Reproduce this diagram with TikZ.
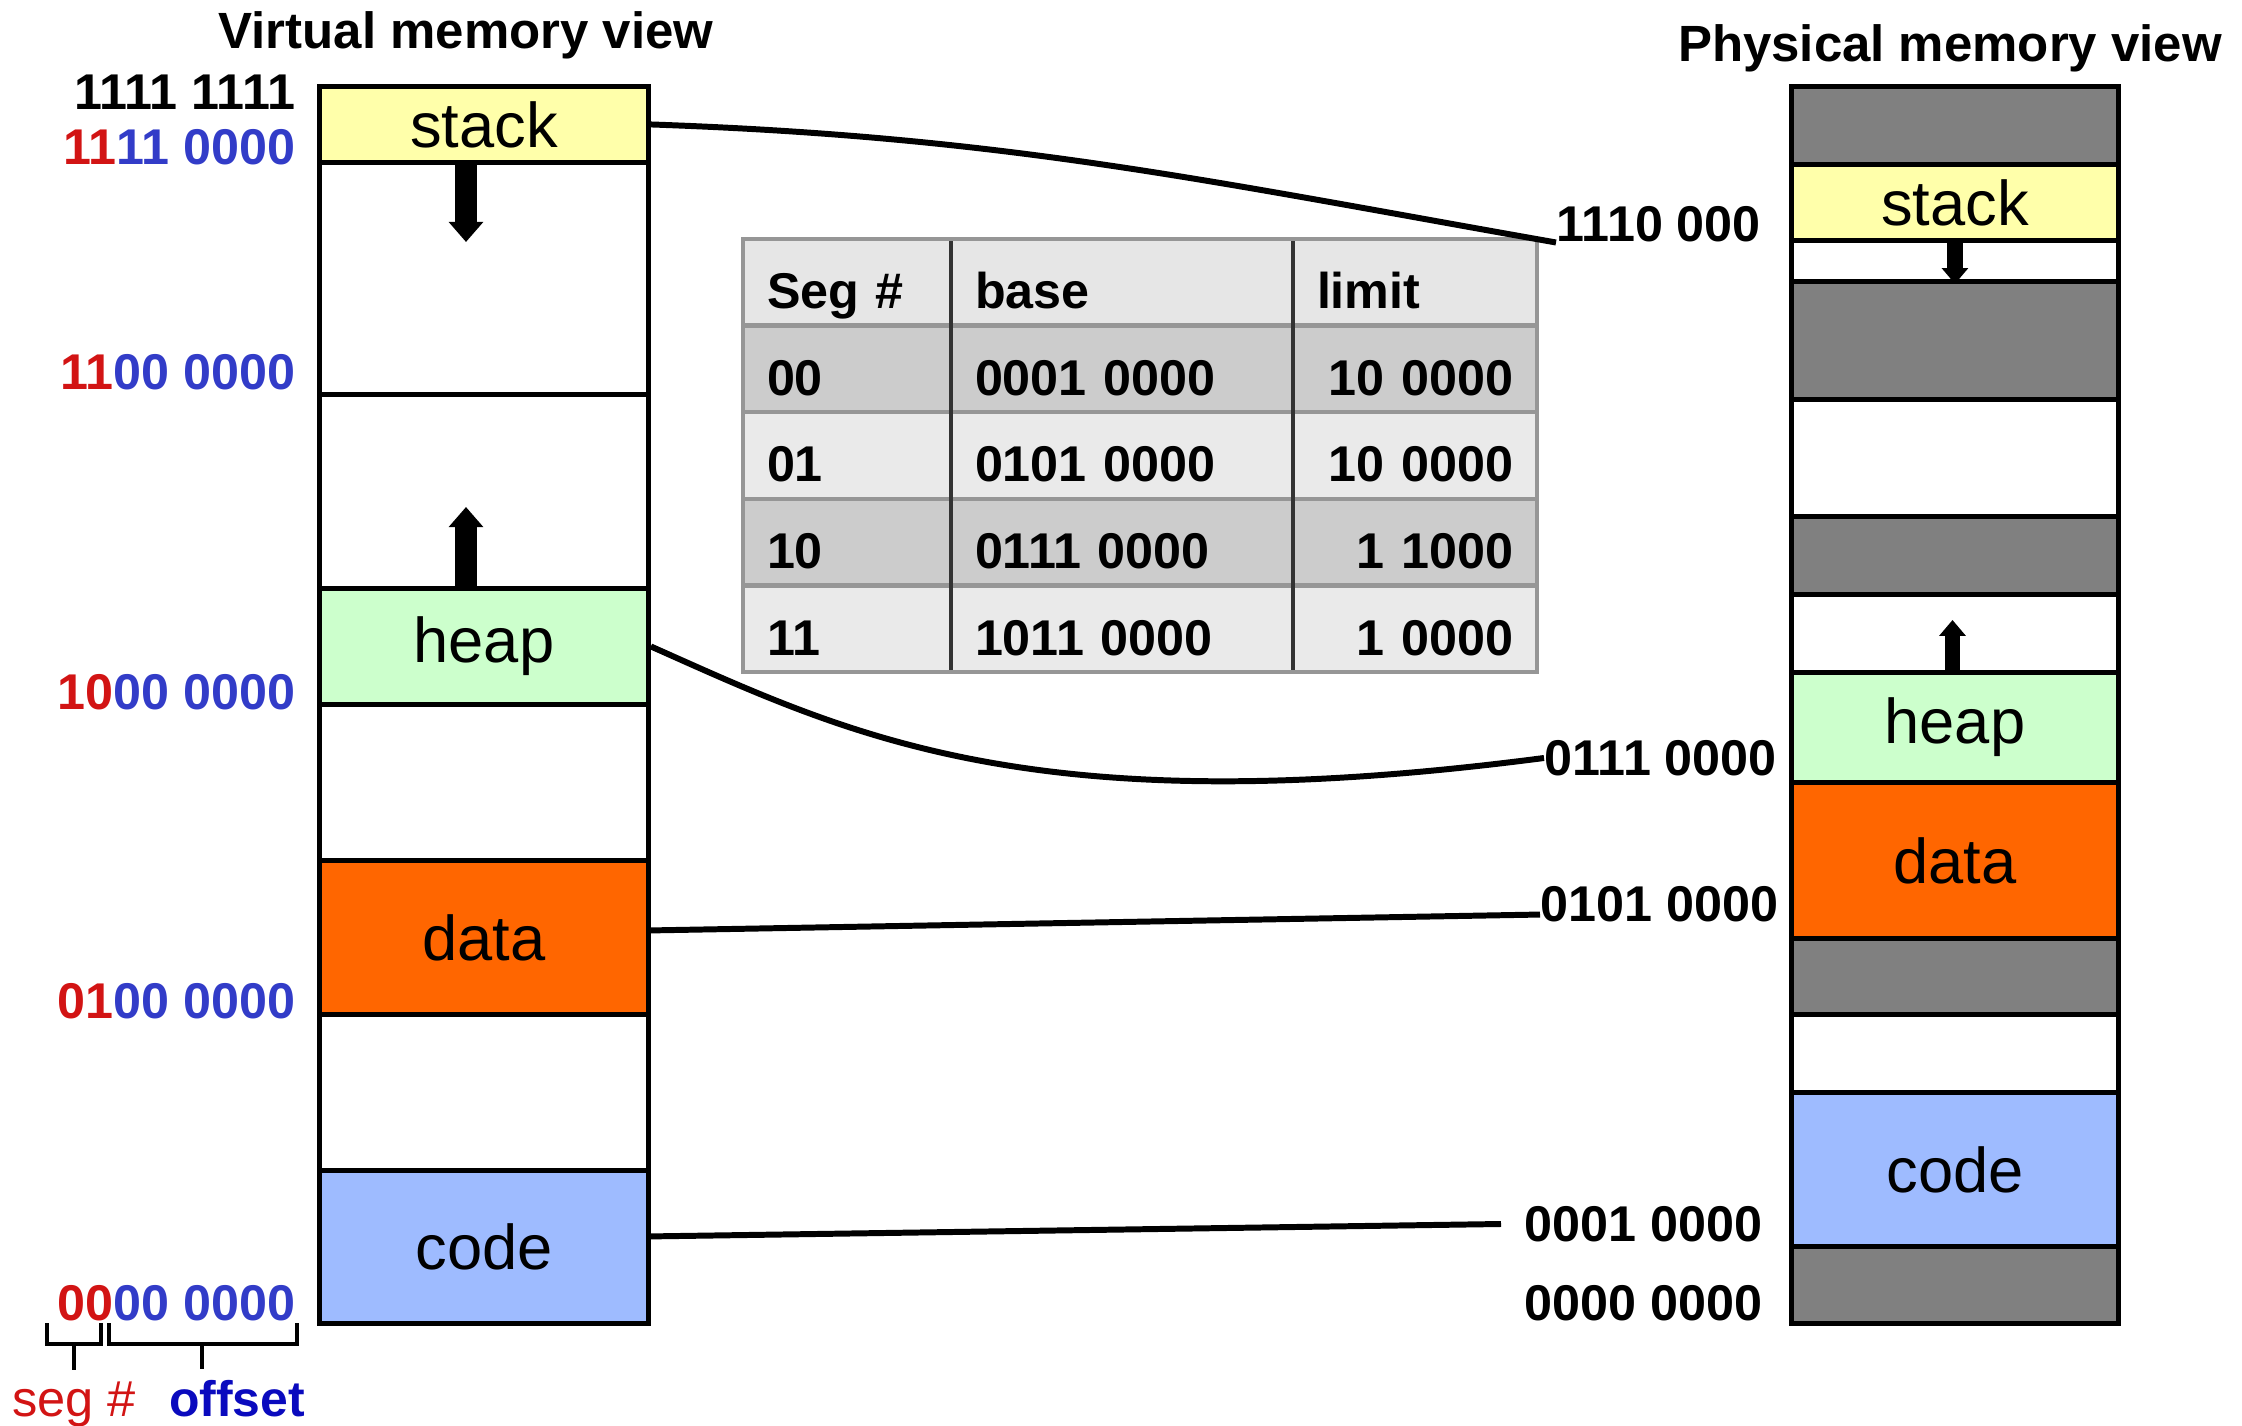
\documentclass[tikz,border=0pt]{standalone}
\usepackage{fontspec}
\setmainfont{Liberation Sans}
\usetikzlibrary{arrows.meta,matrix}

\definecolor{stackyellow}{RGB}{255,255,170}
\definecolor{heapgreen}{RGB}{204,255,204}
\definecolor{dataorange}{RGB}{255,102,0}
\definecolor{codeblue}{RGB}{158,187,255}
\definecolor{usedgray}{RGB}{128,128,128}
\definecolor{segred}{RGB}{210,20,20}
\definecolor{offblue}{RGB}{50,60,200}
\definecolor{offdark}{RGB}{10,10,190}
\definecolor{tabhead}{RGB}{230,230,230}
\definecolor{tabdark}{RGB}{204,204,204}
\definecolor{tablight}{RGB}{234,234,234}
\definecolor{tabline}{RGB}{150,150,150}

\newcommand{\segfont}{\fontsize{18}{21}\selectfont}
\newcommand{\addrfont}{\fontsize{14.3}{17}\selectfont\bfseries}
\newcommand{\titlefont}{\fontsize{14.5}{17}\selectfont\bfseries}
\newcommand{\segbits}[2]{{\color{segred}#1}{\color{offblue}#2}}

\begin{document}
\begin{tikzpicture}
	[
		seg/.style = {draw, line width=1.4pt, anchor=north west, minimum width=3.29cm, inner sep=0, font=\segfont},
		phys/.style = {seg, minimum width=3.27cm},
		addr/.style = {inner sep=0, font=\addrfont},
		link/.style = {line width=1.7pt},
		growarrow/.style = {line width=6pt, -{Triangle[width=9.5pt,length=5.7pt]}},
		smallarrow/.style = {line width=4.5pt, -{Triangle[width=7.3pt,length=4.5pt]}},
		brace/.style = {line width=1.2pt},
	]

  \useasboundingbox (0,0) rectangle (22.42,14.25);

  % titles
  \node[font=\titlefont] (vtitle) at (4.66,13.90) {Virtual memory view};
  \node[font=\titlefont] (ptitle) at (19.50,13.77) {Physical memory view};

  % virtual memory
  \node[seg, fill=stackyellow, minimum height=0.76cm] (vstack) at (3.17,13.41) {stack};
  \node[seg, fill=white, minimum height=2.32cm] (vgap1) at (3.17,12.65) {};
  \node[seg, fill=white, minimum height=1.94cm] (vgap2) at (3.17,10.33) {};
  \node[seg, fill=heapgreen, minimum height=1.16cm] (vheap) at (3.17,8.39) {heap};
  \node[seg, fill=white, minimum height=1.56cm] (vgap3) at (3.17,7.23) {};
  \node[seg, fill=dataorange, minimum height=1.54cm] (vdata) at (3.17,5.67) {data};
  \node[seg, fill=white, minimum height=1.56cm] (vgap4) at (3.17,4.13) {};
  \node[seg, fill=codeblue, minimum height=1.53cm] (vcode) at (3.17,2.57) {code};

  \coordinate (vdowntip) at (4.66,11.83);
  \coordinate (vuptip) at (4.66,9.18);
  \draw[growarrow] (vdowntip |- vstack.south) -- (vdowntip);
  \draw[growarrow] (vuptip |- vheap.north) -- (vuptip);

  % virtual addresses
  \node[addr, anchor=east] (vaTop) at (2.96,13.33) {1111 1111};
  \node[addr, anchor=east] (vaStack) at (2.96,12.78) {\segbits{11}{11 0000}};
  \node[addr, anchor=east] (vaGap) at (2.96,10.53) {\segbits{11}{00 0000}};
  \node[addr, anchor=east] (vaHeap) at (2.96,7.33) {\segbits{10}{00 0000}};
  \node[addr, anchor=east] (vaData) at (2.96,4.24) {\segbits{01}{00 0000}};
  \node[addr, anchor=east] (vaCode) at (2.96,1.22) {\segbits{00}{00 0000}};

  % seg # / offset
  \draw[brace] (0.47,1.02) -- (0.47,0.81) -- (1.01,0.81) -- (1.01,1.02);
  \draw[brace] (1.09,1.02) -- (1.09,0.81) -- (2.97,0.81) -- (2.97,1.02);
  \node[font=\fontsize{14.4}{17}\selectfont, text=segred, anchor=base, inner ysep=3pt] (segl) at (0.74,0.09) {seg \#};
  \node[font=\fontsize{14.2}{17}\selectfont\bfseries, text=offdark, anchor=base, inner ysep=3pt] (offl) at (2.37,0.09) {offset};
  \coordinate (segmid) at (0.74,0.81);
  \coordinate (offmid) at (2.02,0.81);
  \draw[brace] (segmid) -- (segmid |- segl.north);
  \draw[brace] (offmid) -- (offmid |- offl.north);

  % physical memory
  \node[phys, fill=usedgray, minimum height=0.78cm] (pres1) at (17.89,13.41) {};
  \node[phys, fill=stackyellow, minimum height=0.76cm] (pstack) at (17.89,12.63) {stack};
  \node[phys, fill=white, minimum height=0.41cm] (pgap1) at (17.89,11.87) {};
  \node[phys, fill=usedgray, minimum height=1.18cm] (pres2) at (17.89,11.46) {};
  \node[phys, fill=white, minimum height=1.17cm] (pgap2) at (17.89,10.28) {};
  \node[phys, fill=usedgray, minimum height=0.78cm] (pres3) at (17.89,9.11) {};
  \node[phys, fill=white, minimum height=0.78cm] (pgap3) at (17.89,8.33) {};
  \node[phys, fill=heapgreen, minimum height=1.10cm] (pheap) at (17.89,7.55) {heap};
  \node[phys, fill=dataorange, minimum height=1.56cm] (pdata) at (17.89,6.45) {data};
  \node[phys, fill=usedgray, minimum height=0.76cm] (pres4) at (17.89,4.89) {};
  \node[phys, fill=white, minimum height=0.78cm] (pgap4) at (17.89,4.13) {};
  \node[phys, fill=codeblue, minimum height=1.54cm] (pcode) at (17.89,3.35) {code};
  \node[phys, fill=usedgray, minimum height=0.77cm] (pres5) at (17.89,1.81) {};

  \coordinate (puptip) at (19.525,8.05);
  \draw[smallarrow] (pstack.south) -- (pgap1.south);
  \draw[smallarrow] (puptip |- pheap.north) -- (puptip);

  % physical addresses
  \node[addr, anchor=west] (paStack) at (15.56,12.01) {1110 000};
  \node[addr, anchor=west] (paHeap) at (15.44,6.67) {0111 0000};
  \node[addr, anchor=west] (paData) at (15.40,5.21) {0101 0000};
  \node[addr, anchor=west] (paCode) at (15.24,2.01) {0001 0000};
  \node[addr, anchor=west] (paZero) at (15.24,1.22) {0000 0000};

  % segment table
  \matrix (segtab) [matrix of nodes, anchor=north west, inner sep=0, outer sep=0,
    column sep=0, row sep=0,
    nodes={font=\addrfont, minimum height=0.866cm, text height=0.53cm, text depth=0pt,
      inner xsep=0.24cm, inner ysep=0, outer sep=0, anchor=center},
    column 1/.style={nodes={text width=1.60cm, align=left}},
    column 2/.style={nodes={text width=2.94cm, align=left}},
    column 3/.style={nodes={text width=1.96cm, align=right}},
    row 1/.style={nodes={fill=tabhead}},
    row 2/.style={nodes={fill=tabdark}},
    row 3/.style={nodes={fill=tablight}},
    row 4/.style={nodes={fill=tabdark}},
    row 5/.style={nodes={fill=tablight}}]
  at (7.43,11.86) {
    Seg \# & base & |[align=left]| limit \\
    00 & 0001 0000 & 10 0000 \\
    01 & 0101 0000 & 10 0000 \\
    10 & 0111 0000 & 1 1000 \\
    11 & 1011 0000 & 1 0000 \\
  };
  \foreach \r in {1,...,4}
    \draw[tabline, line width=1.2pt] (segtab-\r-1.south west) -- (segtab-\r-3.south east);
  \foreach \c in {1,2}
    \draw[black!80, line width=0.9pt] (segtab-1-\c.north east) -- (segtab-5-\c.south east);
  \draw[tabline, line width=1pt] (segtab-1-1.north west) rectangle (segtab-5-3.south east);

  % mapping
  \draw[link] (vstack.east) to[out=-2,in=170] (paStack.south west);
  \draw[link] (vheap.east) .. controls (8.5,6.9) and (10.3,6.0) .. (paHeap.west);
  \draw[link] ([yshift=2pt]vdata.east) -- ([yshift=-3pt]paData.west);
  \draw[link] ([yshift=3pt]vcode.east) -- ([xshift=-0.23cm]paCode.west);

\end{tikzpicture}
\end{document}
